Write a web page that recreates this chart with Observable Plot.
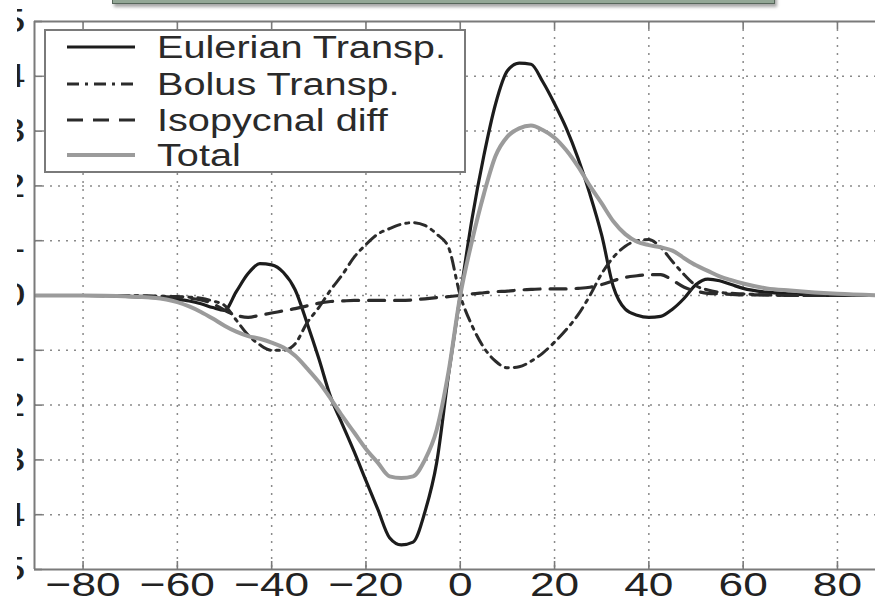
<!DOCTYPE html>
<html><head><meta charset="utf-8">
<script src="https://cdn.jsdelivr.net/npm/d3@7"></script>
<script src="https://cdn.jsdelivr.net/npm/@observablehq/plot@0.6"></script>
<style>
html,body{margin:0;padding:0;background:#fff;overflow:hidden;}
#wrap{position:relative;width:875px;height:609px;font-family:"Liberation Sans",Arial,Helvetica,sans-serif;}
#banner{position:absolute;left:112px;top:-22px;width:661px;height:24px;background:#93a796;border:1.5px solid #56665a;box-shadow:2px 3px 3px rgba(0,0,0,.35);}
#mask{position:absolute;left:0;top:0;width:17px;height:609px;background:#fff;}
#legend{position:absolute;left:44px;top:29px;width:422px;height:144px;background:#fff;border:2px solid #7a7a7a;box-sizing:border-box;}
</style></head><body><div id="wrap"></div>
<script>
const lat = [-90,-80,-70,-65,-60,-57.5,-55,-52.5,-50,-47.5,-45,-42.5,-40,-37.5,-35,-32.5,-30,-27.5,-25,-22.5,-20,-17.5,-15,-12.5,-10,-7.5,-5,-2.5,0,2.5,5,7.5,10,12.5,15,17.5,20,22.5,25,27.5,30,32.5,35,37.5,40,42.5,45,47.5,50,52.5,55,57.5,60,65,70,80,90];
const eulerian = [0,0,-0.02,-0.04,-0.07,
  -0.1,-0.15,-0.22,-0.27,0.07,0.4,0.58,0.56,0.42,0.1,-0.5,-1.15,-1.85,-2.35,-2.85,-3.38,-3.9,-4.42,-4.55,-4.5,-3.95,-3.05,-1.45,
  0,
  1.4,2.55,3.5,4.1,4.24,4.22,3.9,3.5,3.05,2.5,1.85,1.1,0.15,-0.25,-0.36,-0.4,-0.38,-0.25,-0.05,0.2,0.3,0.27,0.2,
  0.13,0.06,0.03,0,0];
const bolus = [0,0,0,-0.01,-0.02,
  -0.03,-0.05,-0.1,-0.18,-0.45,-0.72,-0.9,-1.0,-1.0,-0.88,-0.5,-0.22,0.1,0.38,0.7,0.93,1.12,1.22,1.3,1.33,1.28,1.12,0.88,
  0,
  -0.55,-0.95,-1.2,-1.32,-1.3,-1.2,-1.05,-0.85,-0.62,-0.35,0.0,0.4,0.7,0.9,1.0,1.02,0.88,0.62,0.38,0.18,0.1,0.06,0.04,
  0.03,0.01,0,0,0];
const isopycnal = [0,0,-0.01,-0.02,-0.03,
  -0.05,-0.08,-0.15,-0.27,-0.36,-0.4,-0.36,-0.32,-0.28,-0.24,-0.19,-0.14,-0.11,-0.1,-0.09,-0.09,-0.09,-0.09,-0.09,-0.08,-0.06,-0.04,-0.02,
  0,
  0.03,0.05,0.07,0.08,0.1,0.11,0.12,0.12,0.12,0.13,0.15,0.2,0.27,0.33,0.36,0.38,0.38,0.28,0.15,0.08,0.04,0.03,0.02,
  0.01,0.01,0,0,0];
const total = [0,0,-0.02,-0.04,-0.12,
  -0.2,-0.3,-0.42,-0.55,-0.66,-0.74,-0.79,-0.86,-0.95,-1.1,-1.33,-1.58,-1.88,-2.2,-2.5,-2.8,-3.05,-3.3,-3.33,-3.3,-3.0,-2.45,-1.4,
  0,
  1.0,1.85,2.55,2.9,3.05,3.1,3.02,2.88,2.65,2.35,2.0,1.68,1.35,1.12,0.98,0.92,0.88,0.82,0.68,0.55,0.45,0.35,0.28,
  0.22,0.13,0.09,0.03,0];
const seriesNames = ["Eulerian Transp.","Bolus Transp.","Isopycnal diff","Total"];
const seriesValues = [eulerian, bolus, isopycnal, total];
const xTicks = [-80,-60,-40,-20,0,20,40,60,80];
const yTicks = [-5,-4,-3,-2,-1,0,1,2,3,4,5];

const styles = [
  {stroke:"#1c1c1c", strokeWidth:3.2, dash:null},
  {stroke:"#2b2b2b", strokeWidth:3, dash:"12,6,3,6"},
  {stroke:"#2b2b2b", strokeWidth:3.2, dash:"16,10"},
  {stroke:"#9b9b9b", strokeWidth:4, dash:null}
];
const STRETCH = 1.3;

const series = seriesNames.map((name, i) => lat.map((x, j) => ({lat: x, value: seriesValues[i][j], series: name})));
const fmt = d => d < 0 ? "\u2212" + Math.abs(d) : String(d);
const W = 875, H = 609, mL = 34, mR = 0, mT = 21, mB = 40;
const frameColor = "#7a7a7a";
const FONT = '"Liberation Sans", Arial, Helvetica, sans-serif';

const chart = Plot.plot({
  width: W, height: H,
  marginLeft: mL, marginRight: mR, marginTop: mT, marginBottom: mB,
  x: {domain: [-90.3, 88.07], label: null},
  y: {domain: [-5, 5], label: null},
  style: {fontFamily: FONT, background: "white", color: "#222"},
  marks: [
    Plot.gridX(xTicks, {stroke: "#8a8a8a", strokeOpacity: 1, strokeWidth: 1.5, strokeDasharray: "2,6"}),
    Plot.gridY(yTicks.slice(1, -1), {stroke: "#8a8a8a", strokeOpacity: 1, strokeWidth: 1.5, strokeDasharray: "2,6"}),
    Plot.ruleX(xTicks, {stroke: frameColor, strokeWidth: 1.6, insetTop: H - mT - mB - 8}),
    Plot.ruleX(xTicks, {stroke: frameColor, strokeWidth: 1.6, insetBottom: H - mT - mB - 8}),
    Plot.ruleY(yTicks, {stroke: frameColor, strokeWidth: 1.6, insetRight: W - mL - mR - 8}),
    ...series.map((d, i) => Plot.line(d, {
      x: "lat", y: "value", curve: "monotone-x",
      stroke: styles[i].stroke, strokeWidth: styles[i].strokeWidth,
      strokeDasharray: styles[i].dash, strokeLinejoin: "round"
    })),
    Plot.ruleY([yTicks[0], yTicks[yTicks.length - 1]], {stroke: frameColor, strokeWidth: 2}),
    Plot.ruleX([-90.3], {stroke: frameColor, strokeWidth: 2}),
    Plot.axisX(xTicks, {tickSize: 0, tickPadding: 2, fontSize: 34, tickFormat: fmt, fill: "#222", label: null}),
    Plot.axisY(yTicks, {tickSize: 0, tickPadding: 9, fontSize: 34, tickFormat: fmt, fill: "#222", label: null})
  ]
});

const wrap = document.getElementById("wrap");
wrap.appendChild(chart);

// horizontal stretch of tick labels, as in the reference
chart.querySelectorAll('g[aria-label$="tick label"] text').forEach(t => {
  const w = t.getComputedTextLength();
  t.setAttribute("textLength", (w * STRETCH).toFixed(1));
  t.setAttribute("lengthAdjust", "spacingAndGlyphs");
});

const banner = document.createElement("div"); banner.id = "banner"; wrap.appendChild(banner);
const mask = document.createElement("div"); mask.id = "mask"; wrap.appendChild(mask);

// legend
const legend = document.createElement("div"); legend.id = "legend";
const ns = "http://www.w3.org/2000/svg";
const lsvg = document.createElementNS(ns, "svg");
lsvg.setAttribute("width", 418); lsvg.setAttribute("height", 140);
lsvg.style.display = "block";
legend.appendChild(lsvg);
wrap.appendChild(legend);
const rowY = [16, 53, 89, 124];
seriesNames.forEach((name, i) => {
  const ln = document.createElementNS(ns, "line");
  ln.setAttribute("x1", 21); ln.setAttribute("x2", 89);
  ln.setAttribute("y1", rowY[i]); ln.setAttribute("y2", rowY[i]);
  ln.setAttribute("stroke", styles[i].stroke);
  ln.setAttribute("stroke-width", styles[i].strokeWidth);
  if (styles[i].dash) ln.setAttribute("stroke-dasharray", styles[i].dash);
  lsvg.appendChild(ln);
  const tx = document.createElementNS(ns, "text");
  tx.setAttribute("x", 111); tx.setAttribute("y", rowY[i]);
  tx.setAttribute("dy", "0.36em");
  tx.setAttribute("font-size", 31);
  tx.setAttribute("fill", "#2a2a2a");
  tx.setAttribute("font-family", FONT);
  tx.textContent = name;
  lsvg.appendChild(tx);
  const w = tx.getComputedTextLength();
  tx.setAttribute("textLength", (w * 1.28).toFixed(1));
  tx.setAttribute("lengthAdjust", "spacingAndGlyphs");
});
</script>
</body></html>
